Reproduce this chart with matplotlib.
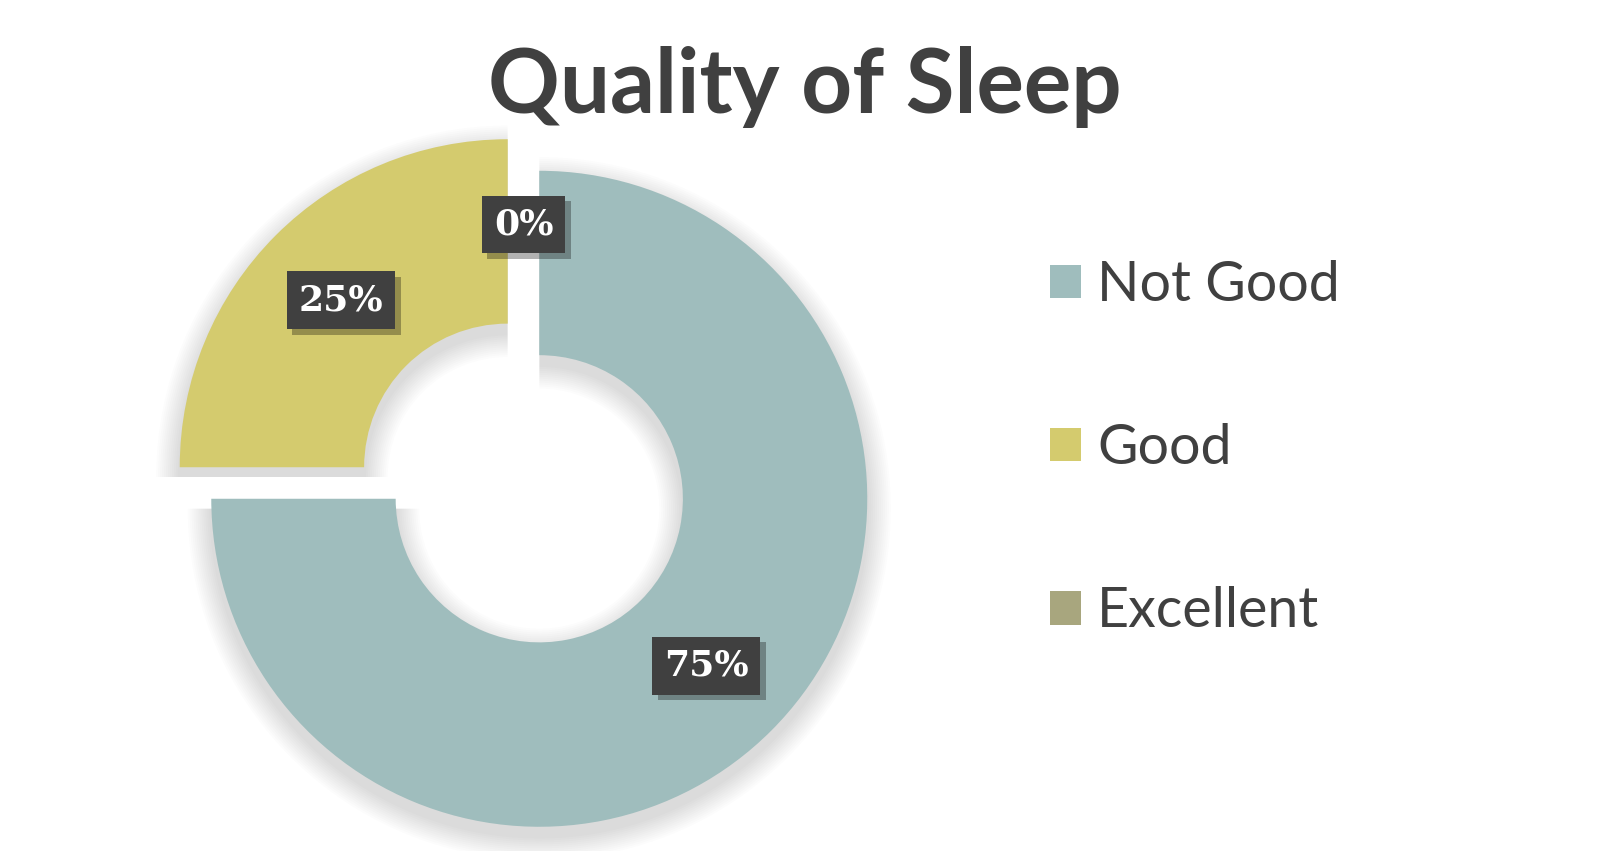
import numpy as np
import matplotlib.pyplot as plt
import matplotlib.patheffects as pe
from matplotlib.patches import Patch

categories = ['Not Good', 'Good', 'Excellent']
values = [75, 25, 0]
colors = ['#9FBDBD', '#D4CB6E', '#A8A67E']
title = 'Quality of Sleep'

W, H = 1600, 851
fig = plt.figure(figsize=(W / 100, H / 100), dpi=100)
fig.patch.set_facecolor('white')

# axes for the donut, square in pixels
cx, cy, R = 523.5, 483.0, 328.0
half = 370
ax = fig.add_axes([(cx - half) / W, (H - cy - half) / H, 2 * half / W, 2 * half / H])
ax.axis('off')

ring = 1 - 143.6 / R
expl = 0.068

# soft shadow behind the ring
for k in range(12):
    d = 0.006 * (k + 1)
    ax.pie(values, radius=1 + d, startangle=90, counterclock=False,
           explode=[expl] * 3, center=(0.0, -0.03),
           colors=['#000000'] * 3,
           wedgeprops=dict(width=ring + 2 * d, alpha=0.011, linewidth=0))

wedges, texts, autotexts = ax.pie(
    values, radius=1, startangle=90, counterclock=False,
    explode=[expl] * 3, colors=colors,
    autopct=lambda p: f'{p:.0f}%', pctdistance=0.72,
    wedgeprops=dict(width=ring, linewidth=0),
    textprops=dict(color='white', fontsize=26, fontweight='bold',
                   family='DejaVu Serif'))

# pie() resets the limits, so set them afterwards
lim = half / R
ax.set_xlim(-lim, lim)
ax.set_ylim(-lim, lim)
ax.set_aspect('equal')

for t in autotexts:
    t.set_bbox(dict(boxstyle='square,pad=0.33', fc='#404040', lw=0,
                    path_effects=[pe.withSimplePatchShadow(offset=(4, -4),
                                                          shadow_rgbFace='k',
                                                          alpha=0.3)]))
    t.set_zorder(10)

fig.text(805 / W, 1 - 87 / H, title, ha='center', va='center',
         fontsize=64, fontweight='bold', family='Lato', color='#404040')

handles = [Patch(facecolor=c, edgecolor='none') for c in colors]
fig.legend(handles, categories, loc='upper left',
           bbox_to_anchor=(1050 / W, 1 - 260 / H), frameon=False,
           prop=dict(family='Lato', size=40), labelcolor='#404040',
           handlelength=0.55, handleheight=0.55, handletextpad=0.3,
           labelspacing=2.02, borderpad=0, borderaxespad=0)

fig.savefig('out.png', dpi=100, facecolor='white')
